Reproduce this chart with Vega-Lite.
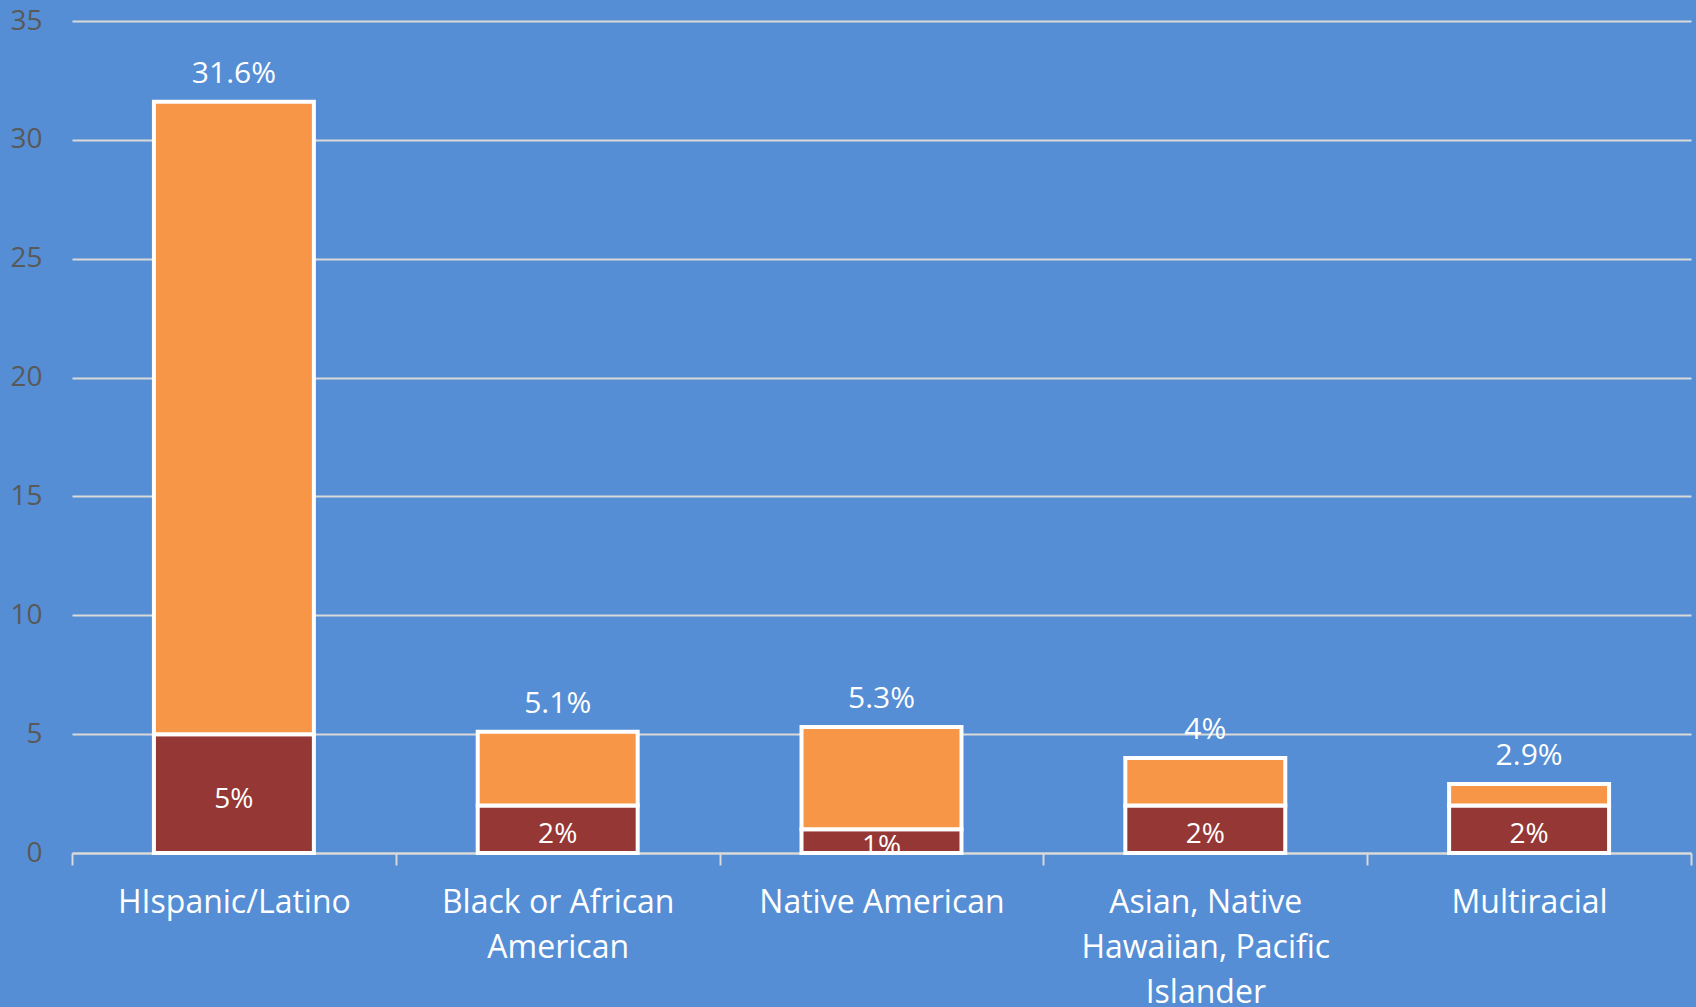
{
  "$schema": "https://vega.github.io/schema/vega-lite/v6.json",
  "autosize": {"type": "none"},
  "width": 1619,
  "height": 832,
  "padding": {"left": 72, "top": 21, "right": 5, "bottom": 154},
  "background": "#558ED5",
  "config": {
    "view": {"stroke": null},
    "font": "Open Sans"
  },
  "data": {
    "values": [
      {"group": "HIspanic/Latino", "segment": "lower", "value": 5, "label": "5%", "total": "31.6%"},
      {"group": "HIspanic/Latino", "segment": "upper", "value": 26.6, "label": "", "total": "31.6%"},
      {"group": "Black or African American", "segment": "lower", "value": 2, "label": "2%", "total": "5.1%"},
      {"group": "Black or African American", "segment": "upper", "value": 3.1, "label": "", "total": "5.1%"},
      {"group": "Native American", "segment": "lower", "value": 1, "label": "1%", "total": "5.3%"},
      {"group": "Native American", "segment": "upper", "value": 4.3, "label": "", "total": "5.3%"},
      {"group": "Asian, Native Hawaiian, Pacific Islander", "segment": "lower", "value": 2, "label": "2%", "total": "4%"},
      {"group": "Asian, Native Hawaiian, Pacific Islander", "segment": "upper", "value": 2, "label": "", "total": "4%"},
      {"group": "Multiracial", "segment": "lower", "value": 2, "label": "2%", "total": "2.9%"},
      {"group": "Multiracial", "segment": "upper", "value": 0.9, "label": "", "total": "2.9%"}
    ]
  },
  "encoding": {
    "x": {
      "field": "group",
      "type": "nominal",
      "sort": null,
      "title": null,
      "scale": {"paddingInner": 0, "paddingOuter": 0},
      "axis": {
        "tickBand": "extent",
        "domainColor": "#D9D9D9",
        "domainWidth": 2,
        "tickColor": "#D9D9D9",
        "tickWidth": 2,
        "tickSize": 12,
        "grid": false,
        "labelAngle": 0,
        "labelColor": "#FFFFFF",
        "labelFont": "Open Sans",
        "labelFontSize": 32,
        "labelLineHeight": 45,
        "labelBaseline": "top",
        "labelPadding": 22,
        "labelLimit": 400,
        "labelExpr": "datum.label == 'Black or African American' ? ['Black or African', 'American'] : datum.label == 'Asian, Native Hawaiian, Pacific Islander' ? ['Asian, Native', 'Hawaiian, Pacific', 'Islander'] : datum.label"
      }
    }
  },
  "layer": [
    {
      "mark": {"type": "bar", "width": {"band": 0.494}, "stroke": "#FFFFFF", "strokeWidth": 4},
      "encoding": {
        "y": {
          "field": "value",
          "type": "quantitative",
          "stack": "zero",
          "title": null,
          "scale": {"domain": [0, 35], "nice": false},
          "axis": {
            "values": [0, 5, 10, 15, 20, 25, 30, 35],
            "domain": false,
            "ticks": false,
            "gridColor": "#D9D9D9",
            "gridWidth": 2,
            "labelColor": "#595959",
            "labelFont": "Open Sans",
            "labelFontSize": 28,
            "labelPadding": 30
          }
        },
        "color": {
          "field": "segment",
          "type": "nominal",
          "scale": {"domain": ["lower", "upper"], "range": ["#953735", "#F79646"]},
          "legend": null
        },
        "order": {"field": "segment", "sort": "ascending"}
      }
    },
    {
      "transform": [{"filter": "datum.segment == 'lower'"}],
      "mark": {"type": "text", "color": "#FFFFFF", "font": "Open Sans", "fontSize": 28, "baseline": "middle", "dy": 6},
      "encoding": {
        "y": {"field": "value", "type": "quantitative", "stack": "zero", "bandPosition": 0.5},
        "text": {"field": "label", "type": "nominal"}
      }
    },
    {
      "transform": [
        {"aggregate": [{"op": "sum", "field": "value", "as": "sumValue"}], "groupby": ["group", "total"]}
      ],
      "mark": {"type": "text", "color": "#FFFFFF", "font": "Open Sans", "fontSize": 30, "baseline": "bottom", "dy": -13},
      "encoding": {
        "y": {"field": "sumValue", "type": "quantitative"},
        "text": {"field": "total", "type": "nominal"}
      }
    }
  ]
}
